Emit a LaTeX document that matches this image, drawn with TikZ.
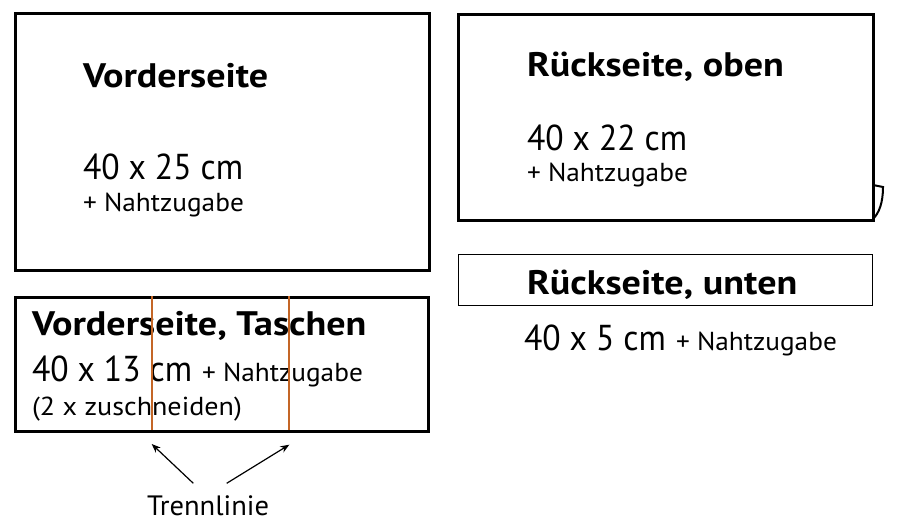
\documentclass[tikz,border=0pt]{standalone}
\usepackage{fontspec}
\setmainfont{PT Sans}
\newfontfamily\ttlfont[FakeStretch=1.12]{PT Sans Bold}
\newfontfamily\dimfont[FakeStretch=0.935]{PT Sans}
\newfontfamily\addfont[FakeStretch=1.05]{PT Sans}
\newfontfamily\zusfont[FakeStretch=1.08]{PT Sans}
\newfontfamily\trfont[FakeStretch=1.02]{PT Sans}
\usetikzlibrary{arrows.meta}
\definecolor{trenn}{RGB}{196,102,38}
\tikzset{
  thickbox/.style={draw=black, line width=3pt},
  thinbox/.style={draw=black, line width=1.5pt},
  lbl/.style={anchor=base west, inner sep=0pt, outer sep=0pt},
  ttl/.style={lbl, font=\ttlfont\fontsize{34}{34}\selectfont},
  dim/.style={lbl, font=\dimfont\fontsize{36}{36}\selectfont},
  add/.style={lbl, font=\addfont\fontsize{26}{26}\selectfont},
  cutline/.style={draw=trenn, line width=2pt},
  pointer/.style={draw=black, line width=1.2pt, -{Stealth[length=9pt,width=7pt]}}
}
\begin{document}
\begin{tikzpicture}[x=1pt,y=-1pt]
\useasboundingbox (0,0) rectangle (897,532);
% boxes
\node[thickbox, minimum width=414pt, minimum height=257pt, anchor=north west, inner sep=0pt] (vs) at (13.5,12) {};
\node[thickbox, minimum width=415pt, minimum height=206pt, anchor=north west, inner sep=0pt] (ro) at (457,13) {};
\node[thinbox, minimum width=414pt, minimum height=51pt, anchor=north west, inner sep=0pt] (ru) at (457.5,253.5) {};
\node[thickbox, minimum width=413pt, minimum height=134pt, anchor=north west, inner sep=0pt] (vt) at (13.5,296) {};
% folded corner
\coordinate (c1) at (873,185);
\coordinate (c2) at (883,187);
\coordinate (c3) at (873,219);
\draw[line width=2pt] (c1) -- (c2) .. controls (883,203) and (879,213) .. (c3);
% texts Vorderseite
\node[ttl] (t1) at (83,87.3) {Vorderseite};
\node[dim] (d1) at (83,179) {40 x 25 cm};
\node[add] (a1) at (83,211) {+ Nahtzugabe};
% Rueckseite oben
\node[ttl] (t2) at (527,77) {Rückseite, oben};
\node[dim] (d2) at (527,150) {40 x 22 cm};
\node[add] (a2) at (527,182) {+ Nahtzugabe};
% Rueckseite unten
\node[ttl] (t3) at (527,294) {Rückseite, unten};
\node[dim] (d3) at (524,350) {40 x 5 cm};
\node[add] (a3) at (676,350) {+ Nahtzugabe};
% Taschen
\node[ttl] (t4) at (32,335) {Vorderseite, Taschen};
\node[dim] (d4) at (32,381.7) {40 x 13 cm};
\node[add] (a4) at (202,381.7) {+ Nahtzugabe};
\node[lbl, font=\zusfont\fontsize{26}{26}\selectfont] (z4) at (32,415) {(2 x zuschneiden)};
% cut lines
\coordinate (l1t) at (151.7,296);
\coordinate (l1b) at (151.7,430);
\coordinate (l2t) at (289,296);
\coordinate (l2b) at (289,430);
\draw[cutline] (l1t) -- (l1b);
\draw[cutline] (l2t) -- (l2b);
% Trennlinie
\node[lbl, font=\trfont\fontsize{28}{28}\selectfont] (tr) at (147,515) {Trennlinie};
\coordinate (p1s) at (193.3,483.3);
\coordinate (p1e) at (151.7,444);
\coordinate (p2s) at (226.7,483.3);
\coordinate (p2e) at (289.3,444.7);
\draw[pointer] (p1s) -- (p1e);
\draw[pointer] (p2s) -- (p2e);
\end{tikzpicture}
\end{document}
